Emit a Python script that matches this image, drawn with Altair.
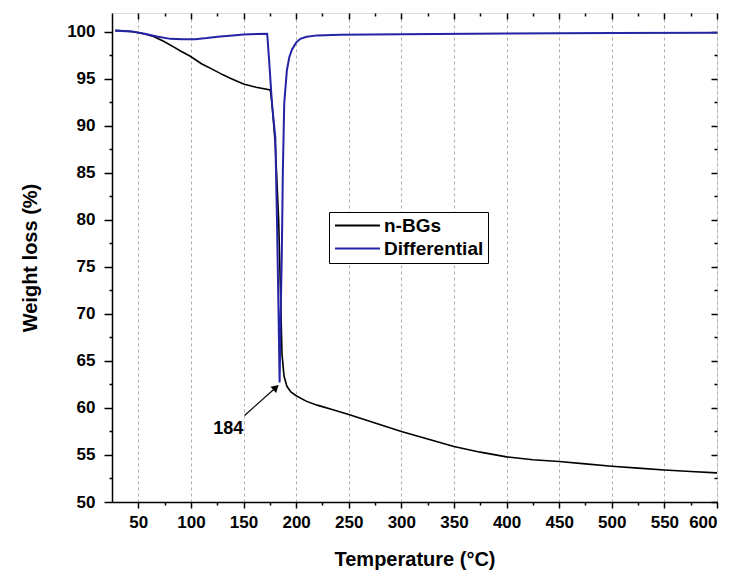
import altair as alt
import pandas as pd

# n-BGs TGA curve (Temperature °C, Weight %)
tga_temp = [28, 36, 45.5, 55, 64.5, 74, 83.5, 91, 99.4, 110, 121.5, 130, 137.4, 150, 162, 175.4,
            177, 180.2, 183.4, 185, 186.6, 188.5, 191.2, 195, 200, 210, 220, 235, 250, 275, 300,
            325, 350, 375, 400, 425, 450, 475, 500, 525, 550, 575, 600]
tga_weight = [100.15, 100.1, 100.0, 99.8, 99.5, 99.0, 98.4, 97.9, 97.4, 96.6, 95.95, 95.45, 95.06,
              94.46, 94.1, 93.82, 92.5, 88.0, 80.0, 72.8, 65.7, 63.4, 62.3, 61.7, 61.3, 60.7, 60.3,
              59.8, 59.3, 58.4, 57.5, 56.7, 55.9, 55.3, 54.8, 54.5, 54.3, 54.05, 53.8, 53.6, 53.4,
              53.25, 53.1]

# Differential curve
dtg_temp = [28.1, 44, 56, 67.7, 80.4, 92, 104.1, 115, 127.9, 140, 150, 162, 172.5, 174, 175.5, 177,
            180.2, 181.8, 183.4, 184.3, 185.3, 186.4, 187.4, 188.7, 191.2, 193.5, 196, 200, 204,
            210, 220, 242, 300, 400, 500, 600]
dtg_value = [100.1, 100.03, 99.8, 99.5, 99.25, 99.2, 99.22, 99.33, 99.5, 99.62, 99.71, 99.76, 99.8,
             97.5, 95.0, 92.4, 88.8, 80.0, 69.3, 62.7, 70.0, 76.4, 85.3, 92.4, 95.9, 97.3, 98.1,
             98.85, 99.25, 99.48, 99.62, 99.7, 99.75, 99.82, 99.88, 99.9]

series_names = ["n-BGs", "Differential"]
series_colors = ["#000000", "#2424a6"]

# annotation: peak label with arrow
annot_label = ["184"]
annot_text_x = [135.5]
annot_text_y = [57.8]
arrow_x1 = [151.0]
arrow_y1 = [59.2]
arrow_x2 = [180.0]
arrow_y2 = [62.1]

x_ticks = [v / 2 for v in range(100, 1201, 50)]      # 50 ... 600 every 25 (minor + major)
y_ticks = [v / 2 for v in range(100, 201, 5)]        # 50 ... 100 every 2.5

FONT = "Liberation Sans"
X_MAJOR = "datum.value % 50 === 0"
Y_MAJOR = "datum.value % 5 === 0"

df = pd.concat([
    pd.DataFrame({"T": tga_temp, "W": tga_weight, "series": series_names[0]}),
    pd.DataFrame({"T": dtg_temp, "W": dtg_value, "series": series_names[1]}),
], ignore_index=True)
df["idx"] = range(len(df))

arrow_df = pd.DataFrame({"x1": arrow_x1, "y1": arrow_y1, "x2": arrow_x2, "y2": arrow_y2})
text_df = pd.DataFrame({"x": annot_text_x, "y": annot_text_y, "label": annot_label})

x_scale = alt.Scale(domain=[25, 600], nice=False, zero=False)
y_scale = alt.Scale(domain=[50, 102], nice=False, zero=False)

x_axis = alt.Axis(values=x_ticks, title="Temperature (°C)", grid=True, gridDash=[3, 3],
                  gridColor="#b0b0b0", gridWidth=1,
                  gridOpacity={"condition": {"test": X_MAJOR, "value": 1}, "value": 0},
                  labelExpr=f"{X_MAJOR} ? datum.label : ''",
                  tickSize={"condition": {"test": X_MAJOR, "value": 6}, "value": 3},
                  tickColor="black", tickWidth=1.5,
                  domainColor="black", domainWidth=1.5, labelFont=FONT, labelFontSize=17,
                  labelFontWeight="bold", labelColor="black", labelPadding=6, titleFont=FONT,
                  titleFontSize=20, titleFontWeight="bold", titleColor="black", titlePadding=19)
y_axis = alt.Axis(values=y_ticks, title="Weight loss (%)", grid=False,
                  labelExpr=f"{Y_MAJOR} ? datum.label : ''",
                  tickSize={"condition": {"test": Y_MAJOR, "value": 8}, "value": 3},
                  tickColor="black", tickWidth=1.5, domainColor="black", domainWidth=1.5,
                  labelFont=FONT, labelFontSize=17, labelFontWeight="bold", labelColor="black",
                  labelPadding=9, titleFont=FONT, titleFontSize=20, titleFontWeight="bold",
                  titleColor="black", titlePadding=26)

# inward ticks along the top and right frame
x_axis_top = alt.Axis(values=x_ticks, orient="bottom", offset=-489, title=None, labels=False,
                      domain=False, grid=False, tickColor="black", tickWidth=1.5,
                      tickSize={"condition": {"test": X_MAJOR, "value": 6}, "value": 3})
y_axis_right = alt.Axis(values=y_ticks, orient="left", offset=-605, title=None, labels=False,
                        domain=False, grid=False, tickColor="black", tickWidth=1.5,
                        tickSize={"condition": {"test": Y_MAJOR, "value": 6}, "value": 3})

color = alt.Color("series:N", scale=alt.Scale(domain=series_names, range=series_colors),
                  legend=alt.Legend(title=None, orient="none", legendX=217, legendY=199,
                                    strokeColor="black", padding=4, symbolType="M-1,0H5",
                                    symbolSize=225, symbolStrokeWidth=2, labelFont=FONT,
                                    labelFontSize=19, labelFontWeight="bold", labelColor="black",
                                    labelOffset=32, rowPadding=3, fillColor="white"))

black_line = alt.Chart(df).transform_filter(alt.datum.series == series_names[0]).mark_line(
    strokeWidth=1.6).encode(
    x=alt.X("T:Q", scale=x_scale, axis=x_axis),
    y=alt.Y("W:Q", scale=y_scale, axis=y_axis),
    color=color, order="idx:Q")
blue_line = alt.Chart(df).transform_filter(alt.datum.series == series_names[1]).mark_line(
    strokeWidth=2).encode(
    x=alt.X("T:Q", scale=x_scale, axis=None),
    y=alt.Y("W:Q", scale=y_scale, axis=None),
    color=color, order="idx:Q")

shaft = alt.Chart(arrow_df).mark_rule(color="black", strokeWidth=1.2).encode(
    x=alt.X("x1:Q", scale=x_scale, axis=None), y=alt.Y("y1:Q", scale=y_scale, axis=None),
    x2="x2:Q", y2="y2:Q")
head = alt.Chart(arrow_df).mark_point(shape="triangle", filled=True, color="black", size=70,
                                      angle=47, opacity=1).encode(
    x=alt.X("x2:Q", scale=x_scale, axis=None), y=alt.Y("y2:Q", scale=y_scale, axis=None))
label = alt.Chart(text_df).mark_text(font=FONT, fontSize=18, fontWeight="bold", color="black").encode(
    x=alt.X("x:Q", scale=x_scale, axis=x_axis_top), y=alt.Y("y:Q", scale=y_scale, axis=y_axis_right),
    text="label:N")

chart = alt.layer(black_line, blue_line, shaft, head, label).resolve_axis(
    x="independent", y="independent"
).properties(
    width=605, height=489,
    autosize=alt.AutoSizeParams(type="none"),
    padding={"left": 104, "top": 5, "right": 11, "bottom": 68},
).configure_view(stroke="black", strokeWidth=1.5).configure(background="white")

chart.save("out.html", embed_options={"renderer": "svg", "actions": False})
